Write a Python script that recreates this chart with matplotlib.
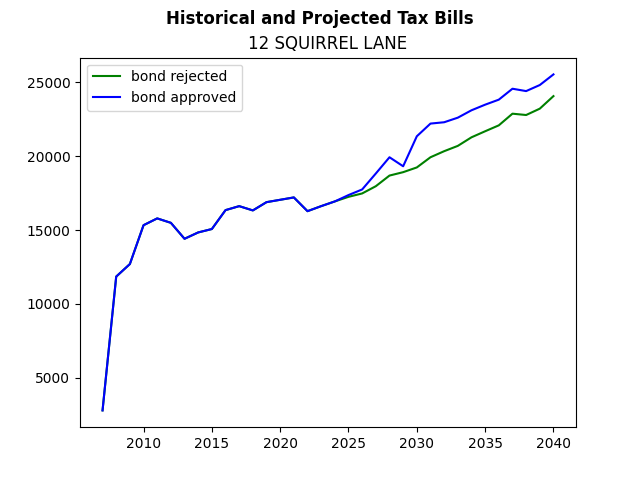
import matplotlib
matplotlib.use('Agg')
import matplotlib.pyplot as plt

# tax bills by year
years = list(range(2007, 2041))
history = [2790, 11850, 12700, 15330, 15790, 15490, 14410, 14840, 15070,
           16350, 16620, 16330, 16890, 17050, 17210, 16280, 16620, 16940]
rejected = [17250, 17480, 17970, 18690, 18920, 19240, 19930, 20340, 20700,
            21280, 21690, 22090, 22880, 22790, 23220, 24070]
approved = [17370, 17750, 18830, 19930, 19320, 21350, 22210, 22300, 22610,
            23110, 23490, 23830, 24570, 24410, 24820, 25540]

fig, ax = plt.subplots()
fig.suptitle('Historical and Projected Tax Bills', fontweight='bold')
ax.set_title('12 SQUIRREL LANE')

ax.plot(years, history + rejected, color='green', label='bond rejected')
ax.plot(years, history + approved, color='blue', label='bond approved')
ax.legend(loc='upper left')

plt.savefig('out.png')
